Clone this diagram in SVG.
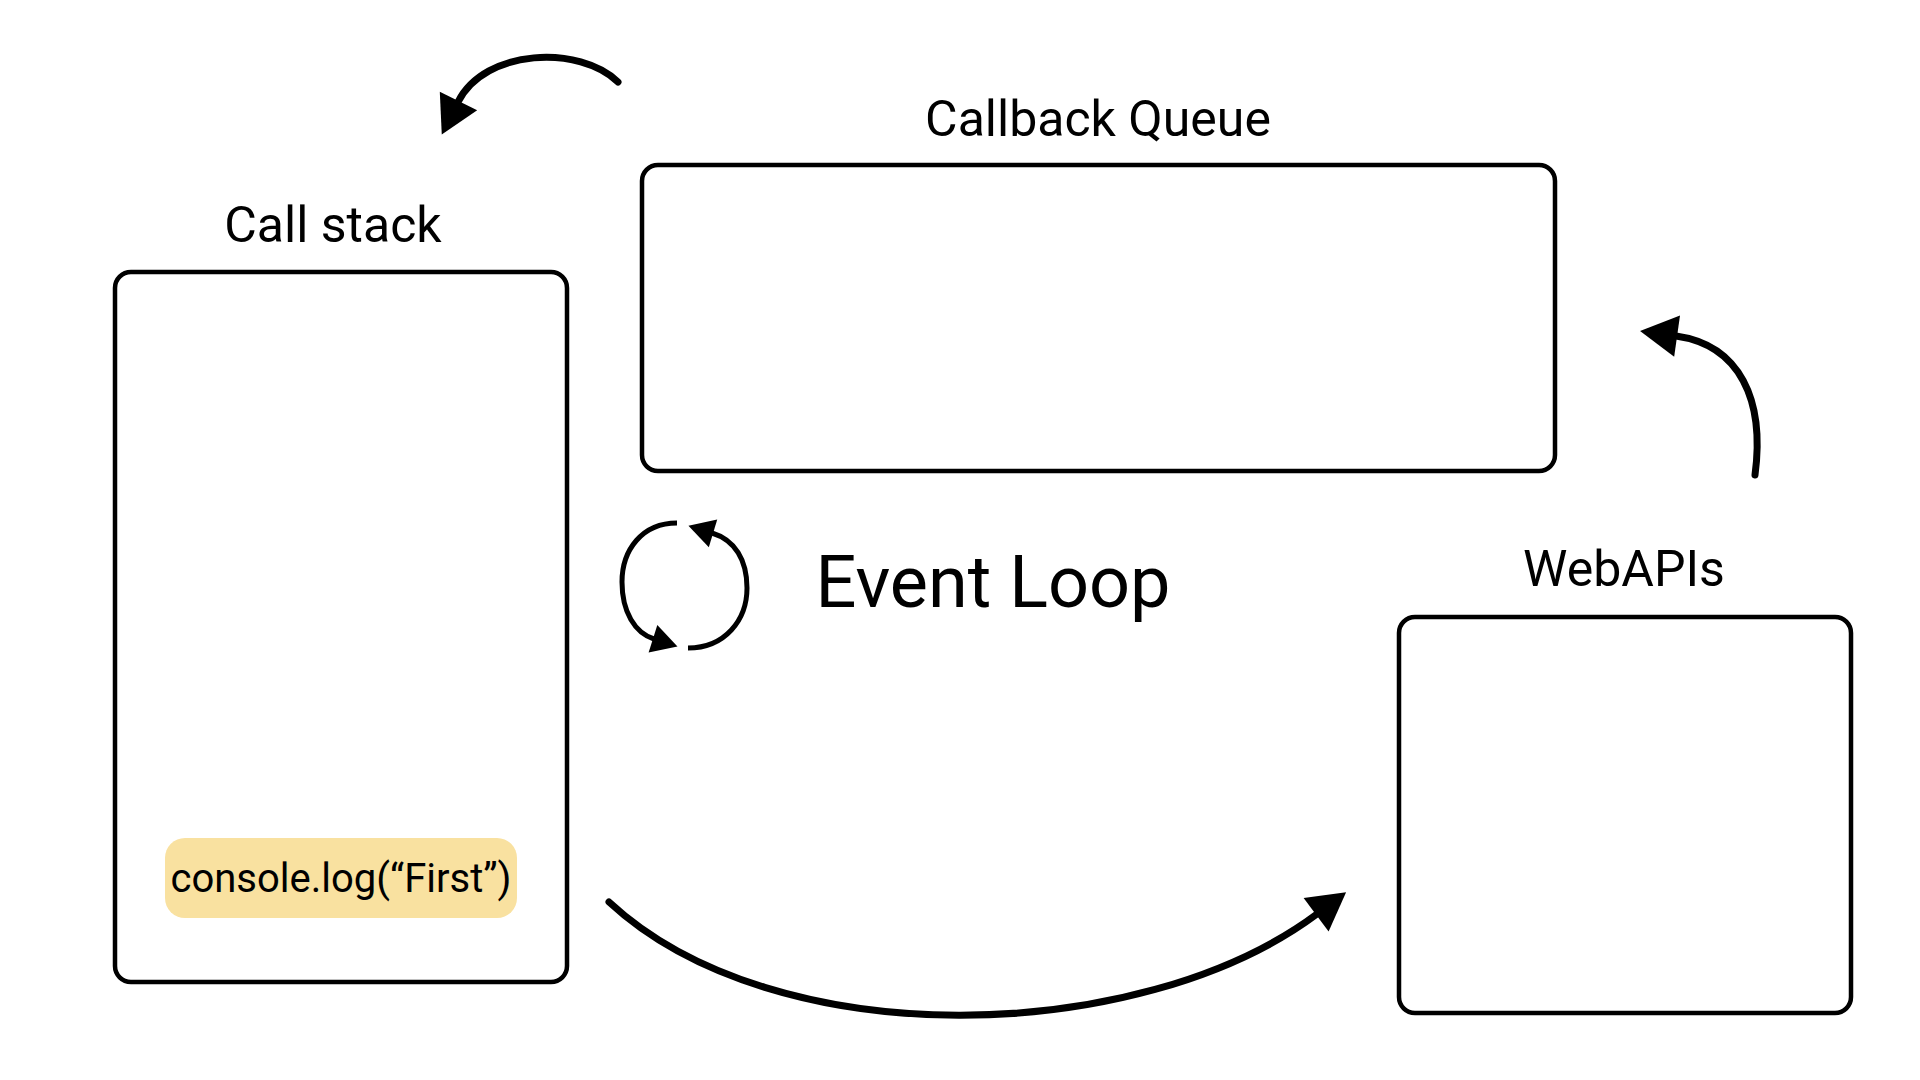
<svg xmlns="http://www.w3.org/2000/svg" width="1920" height="1080" viewBox="0 0 1920 1080">
<style>
.box{fill:#fff;stroke:#000;stroke-width:4.5}
.lbl{font-family:Roboto,"Liberation Sans",sans-serif;font-size:50px;fill:#000;text-anchor:middle}
.arr{fill:none;stroke:#000;stroke-width:7;stroke-linecap:round}
.loop{fill:none;stroke:#000;stroke-width:5}
</style>
<defs>
<marker id="ah" markerUnits="userSpaceOnUse" markerWidth="40" markerHeight="44" viewBox="0 -20 36 40" refX="1" refY="0" orient="auto" overflow="visible">
<path d="M0,-19 L34,0 L0,19 Z" fill="#000"/>
</marker>
<marker id="ahs" markerUnits="userSpaceOnUse" markerWidth="30" markerHeight="30" viewBox="0 -14 26 28" refX="1" refY="0" orient="auto" overflow="visible">
<path d="M0,-13.5 L24,0 L0,13.5 Z" fill="#000"/>
</marker>
</defs>
<rect width="1920" height="1080" fill="#fff"/>
<g id="call-stack">
<text class="lbl" x="333" y="242">Call stack</text>
<rect class="box" x="115" y="272" width="452" height="710" rx="16"/>
<g id="console-log">
<rect x="165" y="838" width="352" height="80" rx="20" fill="#F9E1A0"/>
<text x="341" y="892" font-family="Roboto,'Liberation Sans',sans-serif" font-size="40" text-anchor="middle">console.log(“First”)</text>
</g>
</g>
<g id="callback-queue">
<text class="lbl" x="1098" y="136">Callback Queue</text>
<rect class="box" x="642" y="165" width="913" height="306" rx="16"/>
</g>
<g id="webapis">
<text class="lbl" x="1624" y="586">WebAPIs</text>
<rect class="box" x="1399" y="617" width="452" height="396" rx="16"/>
</g>
<g id="event-loop">
<path class="loop" d="M677,523 C642,523 622,550 622,582 C622,612 635,633 654,639" marker-end="url(#ahs)"/>
<path class="loop" d="M688,648 C725,648 747,620 747,588 C747,560 735,540 712,533" marker-end="url(#ahs)"/>
<text x="993" y="607" font-family="Roboto,'Liberation Sans',sans-serif" font-size="72" text-anchor="middle">Event Loop</text>
</g>
<g id="connectors">
<path class="arr" d="M618,82 C580,45 485,48 458,102" marker-end="url(#ah)"/>
<path class="arr" d="M1755,475 C1765,400 1740,345 1676,336" marker-end="url(#ah)"/>
<path class="arr" d="M609,902 C775,1056 1140,1046 1317,914" marker-end="url(#ah)"/>
</g>
</svg>
